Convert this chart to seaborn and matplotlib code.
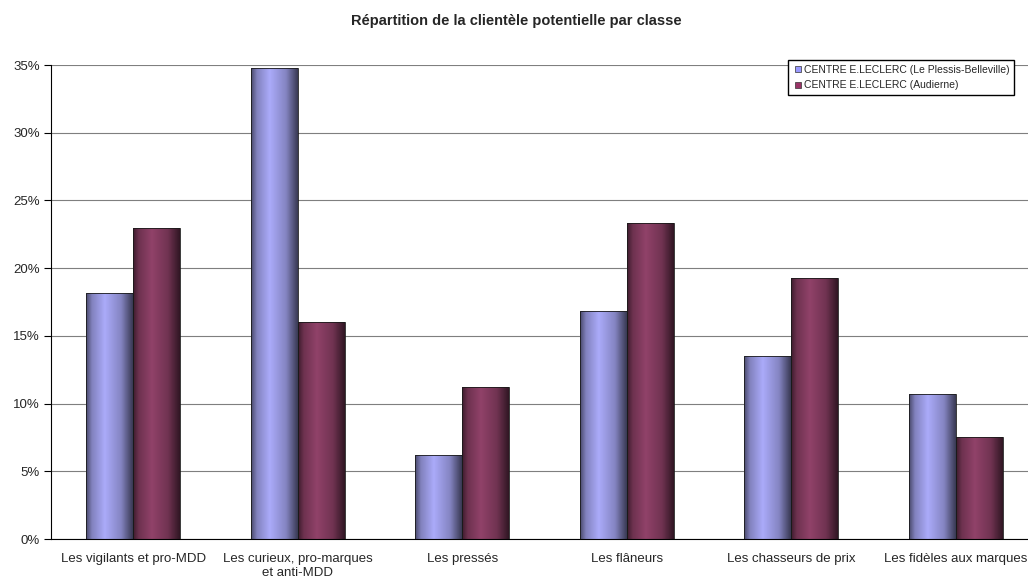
import numpy as np
import pandas as pd
import matplotlib
matplotlib.use('Agg')
import matplotlib.pyplot as plt
import matplotlib.colors as mcolors
from matplotlib.lines import Line2D
import seaborn as sns

# data
categories = ['Les vigilants et pro-MDD', 'Les curieux, pro-marques\net anti-MDD', 'Les pressés',
              'Les flâneurs', 'Les chasseurs de prix', 'Les fidèles aux marques']
series = ['CENTRE E.LECLERC (Le Plessis-Belleville)', 'CENTRE E.LECLERC (Audierne)']
plessis = [0.182, 0.348, 0.062, 0.168, 0.135, 0.107]
audierne = [0.230, 0.160, 0.112, 0.233, 0.193, 0.075]
colors = ['#9999FF', '#993366']
title = 'Répartition de la clientèle potentielle par classe'

df = pd.DataFrame({'classe': categories * 2,
                   'centre': [series[0]] * 6 + [series[1]] * 6,
                   'part': plessis + audierne})

sns.set_style('white')
plt.rcParams['font.family'] = ['Liberation Sans', 'DejaVu Sans']

fig = plt.figure(figsize=(10.28, 5.81), dpi=100)
ax = fig.add_axes([51/1028, 42/581, 987/1028, 474/581])

sns.barplot(data=df, x='classe', y='part', hue='centre', order=categories, hue_order=series,
            palette=colors, width=0.57, gap=0, ax=ax, legend=False, edgecolor='#1a1a1a', linewidth=0.6)

# cylinder-like shading of the bars
shade = np.interp(np.linspace(0, 1, 64), [0, 0.12, 0.4, 0.75, 1], [0.45, 0.78, 1.03, 0.8, 0.35])
for p in ax.patches:
    rgb = np.array(mcolors.to_rgb(p.get_facecolor()))
    img = np.clip(rgb[None, None, :] * shade[None, :, None], 0, 1)
    x0, y0 = p.get_x(), p.get_y()
    w, h = p.get_width(), p.get_height()
    im = ax.imshow(img, extent=[x0, x0 + w, y0, y0 + h], aspect='auto', zorder=p.get_zorder() + 0.1,
                   interpolation='bilinear')
    im.set_clip_path(p)
    p.set_zorder(p.get_zorder() + 0.2)
    p.set_facecolor('none')

ax.set_xlim(-0.5, 5.5)
ax.set_ylim(0, 0.35)
ax.set_yticks(np.arange(0, 0.351, 0.05))
ax.set_yticklabels([f'{int(round(v * 100))}%' for v in np.arange(0, 0.351, 0.05)], fontsize=9.5)
ax.set_xticks(range(6))
ax.set_xticklabels(categories, fontsize=9.5)
ax.set_xticks(np.arange(-0.5, 6, 1), minor=True)
ax.tick_params(axis='x', which='major', length=0, pad=10)
ax.tick_params(axis='x', which='minor', length=5, width=0.8, color='black', direction='out')
ax.tick_params(axis='y', length=5, width=0.8, color='black', direction='out', left=True, pad=3)
ax.set_xlabel('')
ax.set_ylabel('')
ax.grid(axis='y', color='#7f7f7f', linewidth=0.8)
ax.set_axisbelow(True)
for s in ['top', 'right']:
    ax.spines[s].set_visible(False)
for s in ['left', 'bottom']:
    ax.spines[s].set_color('black')
    ax.spines[s].set_linewidth(0.8)

handles = [Line2D([], [], marker='s', linestyle='', markersize=5, markerfacecolor=c,
                  markeredgecolor='#333333', markeredgewidth=0.5) for c in colors]
fig.legend(handles, series, loc='upper left', bbox_to_anchor=(788/1028, 1 - 60/581), fontsize=7.5,
           frameon=True, fancybox=False, edgecolor='black', framealpha=1, borderaxespad=0,
           handletextpad=0.1, handlelength=1, labelspacing=0.55, borderpad=0.45)

fig.text(516/1028, 1 - 21/581, title, ha='center', va='center', fontsize=10.5, fontweight='bold')

fig.savefig('out.png', dpi=100)
